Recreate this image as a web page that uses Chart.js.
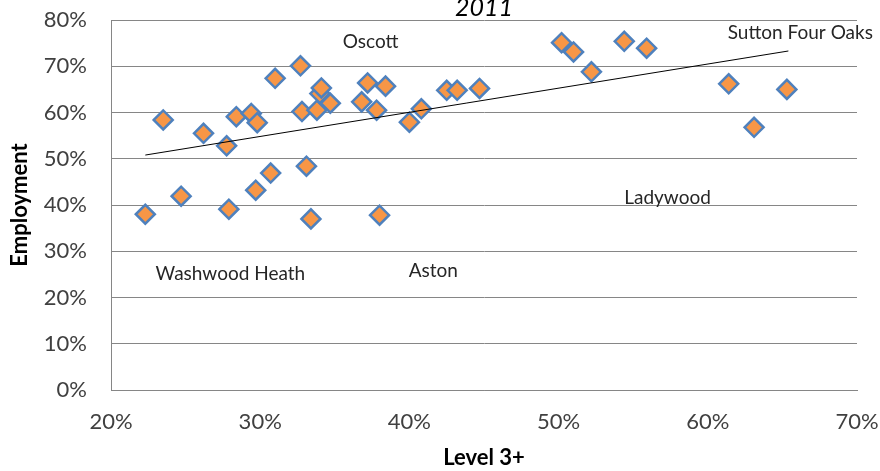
<!DOCTYPE html>
<html>
<head>
<meta charset="utf-8">
<script src="https://cdn.jsdelivr.net/npm/chart.js@4/dist/chart.umd.min.js"></script>
<style>
html,body{margin:0;padding:0;background:#fff;}
#wrap{width:880px;height:471px;position:relative;}
</style>
</head>
<body>
<div id="wrap"><canvas id="c" width="880" height="471"></canvas></div>
<script>
// Level 3+ qualification rate (%) per ward
const level3 = [22.3,23.5,24.7,26.2,27.75,27.9,28.4,29.4,29.7,29.8,30.7,31.0,32.7,32.8,33.1,33.4,33.8,34.0,34.1,34.7,36.8,37.2,37.8,38.4,38.0,40.0,40.8,42.5,43.2,44.7,50.2,51.0,52.2,54.4,55.9,61.4,63.1,65.3];
// Employment rate (%) per ward
const employment = [38.0,58.4,41.9,55.5,52.8,39.1,59.1,59.8,43.2,57.8,46.9,67.4,70.1,60.2,48.4,37.0,60.5,64.1,65.3,62.0,62.3,66.4,60.5,65.7,37.8,57.9,60.8,64.8,64.8,65.2,75.1,73.1,68.8,75.4,73.9,66.2,56.8,65.0];
// Linear trendline endpoints
const trendX = [22.3, 65.4];
const trendY = [50.8, 73.3];
// Area labels
const labelNames = ["Oscott","Sutton Four Oaks","Ladywood","Washwood Heath","Aston"];
const labelX = [37.4, 66.2, 57.3, 28.0, 41.6];
const labelY = [75.2, 77.2, 41.5, 25.1, 25.7];
const xTicks = [20,30,40,50,60,70];
const yTicks = [0,10,20,30,40,50,60,70,80];
const chartTitle = "2011";

const points = level3.map((x,i)=>({x:x,y:employment[i]}));
const trend = trendX.map((x,i)=>({x:x,y:trendY[i]}));

const FONT = "Lato, 'Liberation Sans', sans-serif";

const labelPlugin = {
  id:'areaLabels',
  afterDatasetsDraw(chart){
    const ctx = chart.ctx, xs = chart.scales.x, ys = chart.scales.y;
    ctx.save();
    ctx.font = "19px " + FONT;
    ctx.fillStyle = "#262626";
    ctx.textAlign = "center";
    ctx.textBaseline = "middle";
    labelNames.forEach((n,i)=>{
      ctx.fillText(n, xs.getPixelForValue(labelX[i]), ys.getPixelForValue(labelY[i]));
    });
    // title (partly cut off at top as in reference)
    ctx.font = "italic 25px " + FONT;
    ctx.fillStyle = "#000";
    ctx.textBaseline = "alphabetic";
    ctx.fillText(chartTitle, (chart.chartArea.left+chart.chartArea.right)/2, 16);
    ctx.restore();
  }
};

new Chart(document.getElementById('c'), {
  type:'scatter',
  data:{
    datasets:[
      {
        label:'Wards',
        data:points,
        pointStyle:'rectRot',
        pointRadius:9.5,
        pointHoverRadius:9.5,
        backgroundColor:'#F79646',
        borderColor:'#4F81BD',
        borderWidth:2.5,
        order:1
      },
      {
        label:'Trend',
        type:'line',
        data:trend,
        showLine:true,
        borderColor:'#000',
        borderWidth:1,
        pointRadius:0,
        fill:false,
        order:0
      }
    ]
  },
  options:{
    responsive:false,
    animation:false,
    devicePixelRatio:1,
    layout:{padding:{left:0,right:23,top:20,bottom:0}},
    plugins:{legend:{display:false},tooltip:{enabled:false},title:{display:false}},
    scales:{
      x:{
        type:'linear',
        min:20,max:70,
        afterBuildTicks(s){ s.ticks = xTicks.map(v=>({value:v})); },
        afterFit(s){ s.height = 81; s.paddingLeft = 0; s.paddingRight = 0; },
        grid:{display:false, drawTicks:false},
        border:{display:true,color:'#868686',width:1},
        ticks:{
          padding:19,
          color:'#404040',
          font:{family:FONT,size:22},
          maxRotation:0,
          callback:v=>v+'%'
        },
        title:{display:true,text:'Level 3+',color:'#000',font:{family:FONT,size:22,weight:'bold'},padding:{top:6,bottom:0}}
      },
      y:{
        type:'linear',
        min:0,max:80,
        afterBuildTicks(s){ s.ticks = yTicks.map(v=>({value:v})); },
        afterFit(s){ s.width = 111; s.paddingTop = 0; s.paddingBottom = 0; },
        grid:{color:'#868686',lineWidth:1,drawTicks:false},
        border:{display:true,color:'#868686',width:1},
        ticks:{
          padding:24,
          color:'#404040',
          font:{family:FONT,size:22},
          callback:v=>v+'%'
        },
        title:{display:true,text:'Employment',color:'#000',font:{family:FONT,size:22,weight:'bold'},padding:{top:7,bottom:0}}
      }
    }
  },
  plugins:[labelPlugin]
});
</script>
</body>
</html>
